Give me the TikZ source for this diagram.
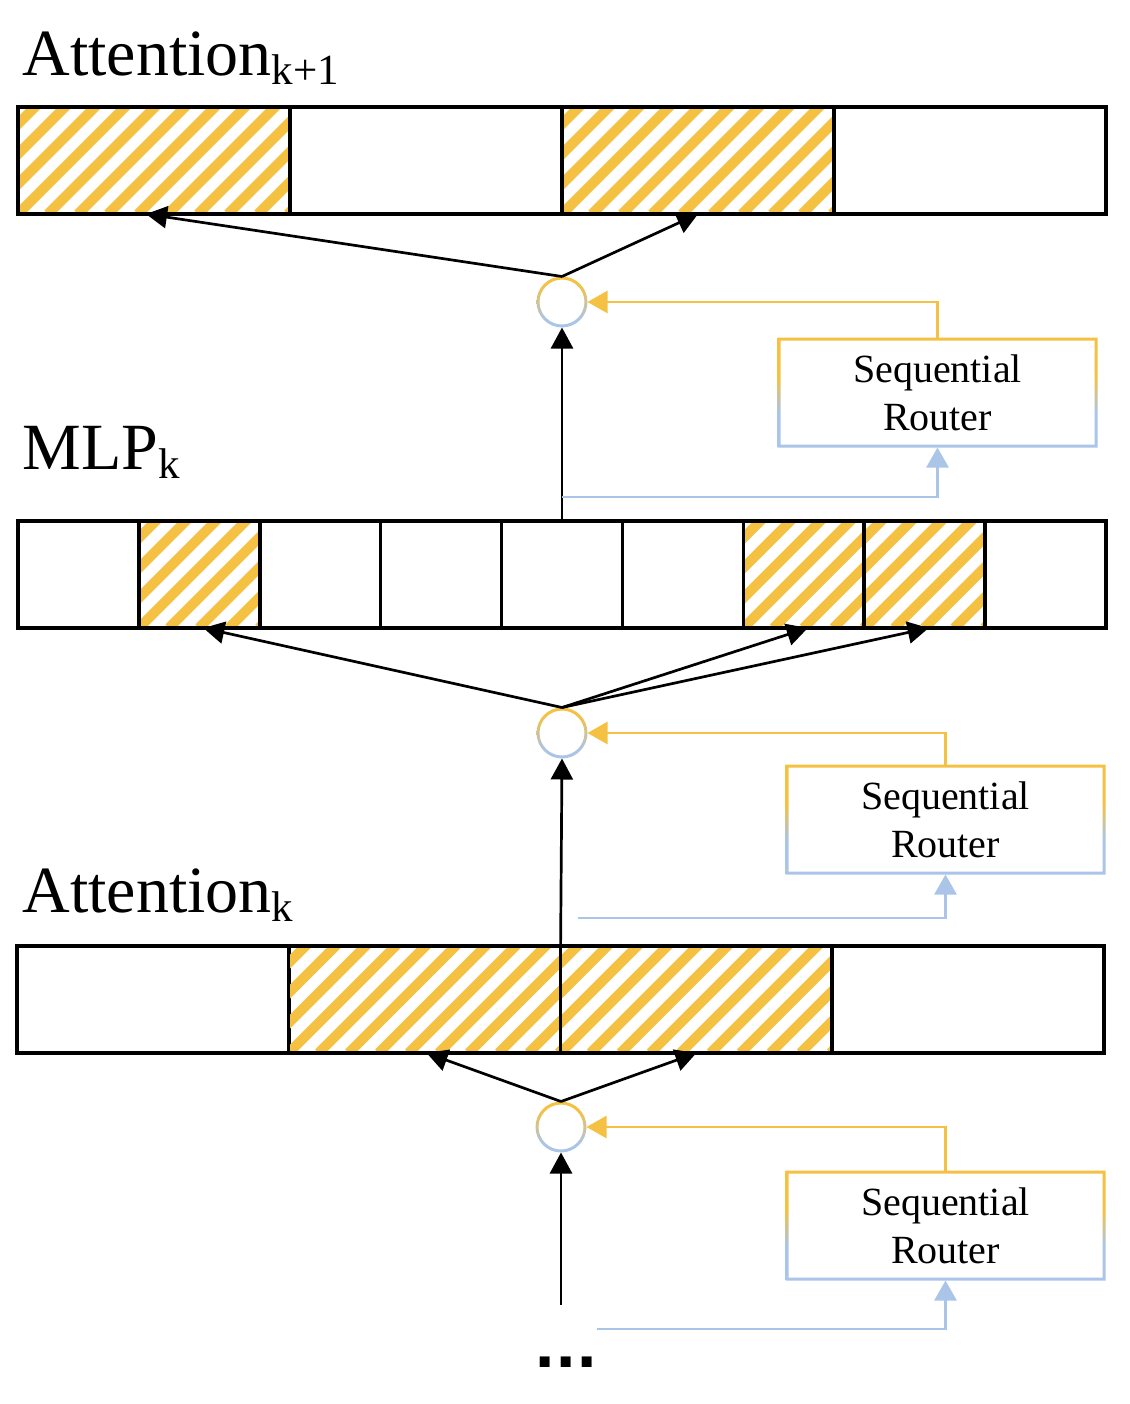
\documentclass[tikz,border=0pt]{standalone}
\usepackage{fontspec}
\setmainfont{Liberation Serif}
\newfontfamily\dotsfont{DejaVu Sans}
\usetikzlibrary{arrows.meta,calc}
\definecolor{hy}{RGB}{245,193,66}
\definecolor{hb}{RGB}{170,197,232}
\pgfdeclareverticalshading{rsh}{100bp}{color(0bp)=(hb); color(41bp)=(hb); color(57bp)=(hy); color(100bp)=(hy)}
\pgfdeclareverticalshading{csh}{100bp}{color(0bp)=(hb); color(33bp)=(hb); color(67bp)=(hy); color(100bp)=(hy)}
\begin{document}
\begin{tikzpicture}[x=0.5pt,y=-0.5pt,
  bar/.style={draw=black, line width=1.75pt, minimum height=53.5pt, inner sep=0, outer sep=0},
  wide/.style={minimum width=136pt},
  narrow/.style={minimum width=60.44pt},
  hatched/.style={path picture={\foreach \k in {-5,...,10} \draw[hy, line width=5pt] ([xshift=\k*15pt]path picture bounding box.south west) -- ++(60pt,60pt);}},
  router/.style={minimum width=158.5pt, minimum height=53.5pt, inner sep=0, outer sep=0.75pt, align=center, font=\fontsize{20}{24}\selectfont},
  joint/.style={circle, minimum size=24pt, inner sep=0, outer sep=0.75pt},
  label/.style={anchor=base west, inner sep=0, font=\fontsize{33}{33}\selectfont},
  arr/.style={-{Triangle[length=10.5pt,width=11pt]}, line width=1.35pt, black},
  yarr/.style={-{Triangle[length=10pt,width=11pt]}, line width=1.3pt, hy},
  barr/.style={-{Triangle[length=10pt,width=11pt]}, line width=1.3pt, hb}]
\useasboundingbox (0,0) rectangle (1130,1404);
\fill[white] (0,0) rectangle (1130,1404);

% labels
\node[label] (lt) at (22,75) {Attention\raisebox{-4.5pt}{\fontsize{21.5}{21.5}\selectfont k+1}};
\node[label] (lm) at (22,469) {MLP\raisebox{-4.5pt}{\fontsize{21.5}{21.5}\selectfont k}};
\node[label] (la) at (22,912) {Attention\raisebox{-4.5pt}{\fontsize{21.5}{21.5}\selectfont k}};

% top attention bar
\node[bar, wide, hatched] (t1) at (154,160.5) {};
\node[bar, wide] (t2) at (426,160.5) {};
\node[bar, wide, hatched] (t3) at (698,160.5) {};
\node[bar, wide] (t4) at (970,160.5) {};

% MLP bar
\node[bar, narrow] (m1) at (78.44,574.5) {};
\node[bar, narrow, hatched] (m2) at (199.33,574.5) {};
\node[bar, narrow] (m3) at (320.22,574.5) {};
\node[bar, narrow] (m4) at (441.11,574.5) {};
\node[bar, narrow] (m5) at (562,574.5) {};
\node[bar, narrow] (m6) at (682.89,574.5) {};
\node[bar, narrow, hatched] (m7) at (803.78,574.5) {};
\node[bar, narrow, hatched] (m8) at (924.67,574.5) {};
\node[bar, narrow] (m9) at (1045.56,574.5) {};

% attention k bar
\node[bar, wide] (k1) at (152.9,999.5) {};
\node[bar, wide, hatched] (k2) at (424.6,999.5) {};
\node[bar, wide, hatched] (k3) at (696.4,999.5) {};
\node[bar, wide] (k4) at (968.1,999.5) {};

% joints
\node[joint] (c1) at (562,302) {};
\node[joint] (c2) at (562,733) {};
\node[joint] (c3) at (561,1127) {};
\foreach \c in {c1,c2,c3}
  \shade[shading=csh, even odd rule] (\c.center) circle[radius=12.75pt] (\c.center) circle[radius=11.25pt];

% routers
\node[router] (r1) at (937.5,392.5) {Sequential\\Router};
\node[router] (r2) at (945.5,819.5) {Sequential\\Router};
\node[router] (r3) at (945.5,1225.5) {Sequential\\Router};
\foreach \r in {r1,r2,r3}
  \shade[shading=rsh, even odd rule] (\r.south west) rectangle (\r.north east)
     ([shift={(1.5pt,1.5pt)}]\r.south west) rectangle ([shift={(-1.5pt,-1.5pt)}]\r.north east);

% free ends
\coordinate (b1) at (562,497);
\coordinate (b2) at (578,918);
\coordinate (b3) at (597,1329);
\coordinate (s3) at (561,1305);

% black arrows
\draw[arr] (c1.north) -- ([xshift=-4pt]t1.south);
\draw[arr] (c1.north) -- (t3.south);
\draw[arr] (m5.north) -- (c1.south);
\draw[arr] (c2.north) -- ([xshift=2pt]m2.south);
\draw[arr] (c2.north) -- ([xshift=2pt]m7.south);
\draw[arr] (c2.north) -- ([xshift=2pt]m8.south);
\draw[arr] (k2.north east) -- (c2.south);
\draw[arr] (c3.north) -- ([xshift=1pt]k2.south);
\draw[arr] (c3.north) -- (k3.south);
\draw[arr] (s3) -- (c3.south);

% router arrows
\draw[yarr] (r1.north) |- (c1.east);
\draw[yarr] (r2.north) |- (c2.east);
\draw[yarr] (r3.north) |- (c3.east);
\draw[barr] (b1) -| (r1.south);
\draw[barr] (b2) -| (r2.south);
\draw[barr] (b3) -| (r3.south);

% dots
\node[anchor=base, inner sep=0, font=\dotsfont\bfseries\fontsize{28}{28}\selectfont] (dots) at (566,1367) {...};
\end{tikzpicture}
\end{document}
